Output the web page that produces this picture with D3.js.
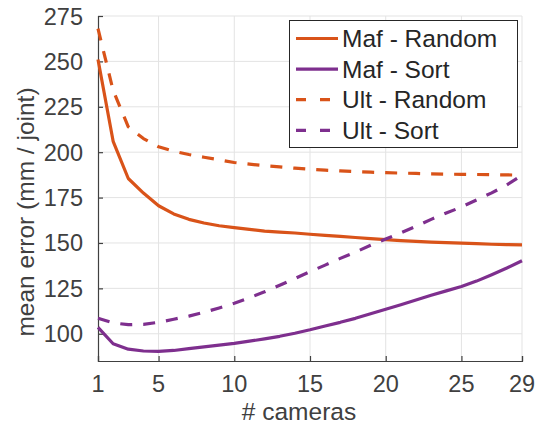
<!DOCTYPE html>
<html>
<head>
<meta charset="utf-8">
<script src="https://cdn.jsdelivr.net/npm/d3@7"></script>
<style>
  body { margin: 0; background: #fff; }
  text { font-family: "Liberation Sans", Arial, sans-serif; }
</style>
</head>
<body>
<div id="chart"></div>
<script>
const cameras = d3.range(1, 30);
const mafRandom = [251, 206, 185.5, 177.5, 170.5, 166, 163, 161, 159.5, 158.5, 157.5, 156.5, 156, 155.5, 154.8, 154.2, 153.6, 153, 152.4, 151.8, 151.3, 150.9, 150.5, 150.2, 149.9, 149.6, 149.3, 149.1, 148.9];
const mafSort = [103.5, 94.5, 91.5, 90.5, 90.3, 90.8, 91.8, 92.8, 93.7, 94.7, 95.9, 97.2, 98.6, 100.3, 102.2, 104.3, 106.3, 108.5, 111, 113.5, 116, 118.6, 121.2, 123.6, 126, 129, 132.5, 136.2, 140.2];
const ultRandom = [268, 234, 214, 207.5, 203, 200.5, 198.7, 197.2, 195.8, 194.3, 193.4, 192.6, 191.9, 191.2, 190.6, 190.1, 189.7, 189.3, 189, 188.7, 188.5, 188.3, 188.1, 187.9, 187.8, 187.7, 187.6, 187.5, 187.3];
const ultSort = [108.5, 106, 105, 105.2, 106.3, 108, 109.7, 111.8, 114.2, 116.8, 119.8, 123.1, 126.7, 130.4, 134.2, 137.8, 141.5, 145, 148.7, 152.2, 155.6, 159.2, 163, 166.5, 169.8, 173.7, 177.6, 182, 187.3];
const xTicks = [1, 5, 10, 15, 20, 25, 29];
const yTicks = [100, 125, 150, 175, 200, 225, 250, 275];
const seriesNames = ['Maf - Random', 'Maf - Sort', 'Ult - Random', 'Ult - Sort'];

const orange = '#D95319', purple = '#7E2F8E';
const series = [
  { name: seriesNames[0], values: mafRandom, color: orange, dash: null },
  { name: seriesNames[1], values: mafSort, color: purple, dash: null },
  { name: seriesNames[2], values: ultRandom, color: orange, dash: '12,11' },
  { name: seriesNames[3], values: ultSort, color: purple, dash: '12,11' }
];

const w = 540, h = 428;
const m = { left: 98, right: 18, top: 16, bottom: 67 };

const svg = d3.select('#chart').append('svg').attr('width', w).attr('height', h);

const x = d3.scaleLinear().domain([1, 29]).range([m.left, w - m.right]);
const y = d3.scaleLinear().domain([85, 275]).range([h - m.bottom, m.top]);

// grid
const grid = svg.append('g').attr('stroke', '#e3e3e3').attr('stroke-width', 1);
grid.selectAll('.gx').data(xTicks.slice(1)).enter().append('line')
  .attr('x1', d => x(d)).attr('x2', d => x(d))
  .attr('y1', y(85)).attr('y2', y(275));
grid.selectAll('.gy').data(yTicks).enter().append('line')
  .attr('x1', x(1)).attr('x2', x(29))
  .attr('y1', d => y(d)).attr('y2', d => y(d));

// axes, ticks pointing inward
const xAxis = d3.axisTop(x).tickValues(xTicks).tickSize(5).tickFormat('');
const yAxis = d3.axisRight(y).tickValues(yTicks).tickSize(5).tickFormat('');

const gx = svg.append('g').attr('transform', `translate(0,${y(85)})`).call(xAxis);
const gy = svg.append('g').attr('transform', `translate(${x(1)},0)`).call(yAxis);
[gx, gy].forEach(g => {
  g.select('.domain').attr('stroke', '#404040').attr('stroke-width', 1.2);
  g.selectAll('.tick line').attr('stroke', '#404040').attr('stroke-width', 1.2);
});

// tick labels
svg.append('g').selectAll('text').data(xTicks).enter().append('text')
  .attr('x', d => x(d)).attr('y', 392)
  .attr('text-anchor', 'middle')
  .attr('font-size', 23.5).attr('fill', '#404040')
  .text(d => d);
svg.append('g').selectAll('text').data(yTicks).enter().append('text')
  .attr('x', 83).attr('y', d => y(d) + 8.5)
  .attr('text-anchor', 'end')
  .attr('font-size', 23.5).attr('fill', '#404040')
  .text(d => d);

// axis labels
svg.append('text').attr('x', 299).attr('y', 420)
  .attr('text-anchor', 'middle').attr('font-size', 24.5).attr('fill', '#404040')
  .text('# cameras');
svg.append('text').attr('transform', 'translate(34,212) rotate(-90)')
  .attr('text-anchor', 'middle').attr('font-size', 24.5).attr('fill', '#404040')
  .text('mean error (mm / joint)');

// lines
const line = d3.line().x((d, i) => x(cameras[i])).y(d => y(d));
svg.append('g').selectAll('path').data(series).enter().append('path')
  .attr('d', d => line(d.values))
  .attr('fill', 'none')
  .attr('stroke', d => d.color)
  .attr('stroke-width', 3.2)
  .attr('stroke-dasharray', d => d.dash)
  .attr('stroke-linejoin', 'round');

// legend
const lg = svg.append('g');
lg.append('rect').attr('x', 289.5).attr('y', 20.5).attr('width', 228).attr('height', 127)
  .attr('fill', '#fff').attr('stroke', '#262626').attr('stroke-width', 1);
const rows = lg.selectAll('.row').data(series).enter().append('g')
  .attr('transform', (d, i) => `translate(0,${38.5 + i * 30.6})`);
rows.append('line').attr('x1', 296).attr('x2', 338).attr('y1', 0).attr('y2', 0)
  .attr('stroke', d => d.color).attr('stroke-width', 3.2)
  .attr('stroke-dasharray', d => d.dash ? '10,14' : null);
rows.append('text').attr('x', 342).attr('y', 8.5)
  .attr('font-size', 24.5).attr('fill', '#262626')
  .text(d => d.name);
</script>
</body>
</html>
